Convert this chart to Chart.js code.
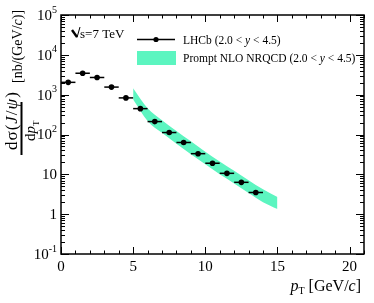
<!DOCTYPE html>
<html>
<head>
<meta charset="utf-8">
<script src="https://cdn.jsdelivr.net/npm/chart.js@4.4.0/dist/chart.umd.min.js"></script>
<style>
  body { margin: 0; background: #fff; }
  canvas { display: block; }
</style>
</head>
<body>
<canvas id="myChart" width="374" height="303"></canvas>
<script>
// LHCb points (bin centres, half-width, value)
var ptCentres = [0.5, 1.5, 2.5, 3.5, 4.5, 5.5, 6.5, 7.5, 8.5, 9.5, 10.5, 11.5, 12.5, 13.5];
var ptHalfWidth = 0.5;
var lhcbValues = [2040, 3450, 2700, 1550, 830, 446, 211, 112, 63, 33, 19, 10.6, 6.3, 3.5];

// NLO NRQCD band
var bandPt = [5, 6, 7, 8, 9, 10, 11, 12, 13, 14, 15];
var bandUpper = [1450, 457, 229, 123, 68, 37, 21, 12.3, 7.1, 4.2, 2.7];
var bandLower = [760, 219, 110, 59, 32, 17.8, 10, 5.9, 3.4, 2.0, 1.35];

var xTicks = [0, 5, 10, 15, 20];
var yDecades = [-1, 0, 1, 2, 3, 4, 5];

var serif = '"Liberation Serif", "DejaVu Serif", serif';
var bandColour = 'rgb(92,245,192)';

function pts(xs, ys) {
    return xs.map(function (x, i) { return { x: x, y: ys[i] }; });
}

// draw a run of [text, font, dy, gap] pieces starting at x
function drawRun(ctx, x, y, pieces) {
    pieces.forEach(function (p) {
        ctx.font = p[1];
        ctx.fillText(p[0], x, y + (p[2] || 0));
        x += ctx.measureText(p[0]).width + (p[3] || 0);
    });
    return x;
}

var decorations = {
    id: 'decorations',
    afterDatasetsDraw: function (chart) {
        var ctx = chart.ctx;
        var xs = chart.scales.x, ys = chart.scales.y;
        // x error bars
        ctx.save();
        ctx.strokeStyle = '#000';
        ctx.lineWidth = 1.5;
        ptCentres.forEach(function (c, i) {
            var py = ys.getPixelForValue(lhcbValues[i]);
            ctx.beginPath();
            ctx.moveTo(xs.getPixelForValue(c - ptHalfWidth), py);
            ctx.lineTo(xs.getPixelForValue(c + ptHalfWidth), py);
            ctx.stroke();
        });
        ctx.restore();
    },
    afterDraw: function (chart) {
        var ctx = chart.ctx;
        var a = chart.chartArea;
        var xs = chart.scales.x, ys = chart.scales.y;
        ctx.save();
        ctx.strokeStyle = '#000';
        ctx.fillStyle = '#000';

        // frame
        ctx.lineWidth = 1.5;
        ctx.strokeRect(a.left, a.top, a.right - a.left, a.bottom - a.top);

        // x ticks, inside, bottom and top
        ctx.lineWidth = 1;
        for (var v = 0; v <= 21; v++) {
            var px = Math.round(xs.getPixelForValue(v)) + 0.5;
            var len = (v % 5 === 0) ? 7 : 3.5;
            ctx.beginPath();
            ctx.moveTo(px, a.bottom); ctx.lineTo(px, a.bottom - len);
            ctx.moveTo(px, a.top); ctx.lineTo(px, a.top + len);
            ctx.stroke();
        }
        // y ticks, inside, left and right
        yDecades.forEach(function (d) {
            for (var m = 1; m <= 9; m++) {
                var val = m * Math.pow(10, d);
                if (val > 1e5 || val < 0.1) continue;
                var py = Math.round(ys.getPixelForValue(val)) + 0.5;
                var len = (m === 1) ? 8 : 4;
                ctx.beginPath();
                ctx.moveTo(a.left, py); ctx.lineTo(a.left + len, py);
                ctx.moveTo(a.right, py); ctx.lineTo(a.right - len, py);
                ctx.stroke();
            }
        });

        // x tick labels
        ctx.font = '15px ' + serif;
        ctx.textAlign = 'center';
        ctx.textBaseline = 'middle';
        xTicks.forEach(function (t) {
            ctx.fillText(String(t), xs.getPixelForValue(t), 267);
        });

        // y tick labels
        ctx.textAlign = 'left';
        yDecades.forEach(function (d) {
            var py = ys.getPixelForValue(Math.pow(10, d));
            var big = '15px ' + serif, small = '10px ' + serif;
            var pieces;
            if (d === 0) pieces = [['1', big, 0]];
            else if (d === 1) pieces = [['10', big, 0]];
            else pieces = [['10', big, 0], [String(d), small, -6]];
            var w = 0;
            pieces.forEach(function (p) { ctx.font = p[1]; w += ctx.measureText(p[0]).width; });
            drawRun(ctx, 57 - w, py + 1, pieces);
        });

        // x axis title
        ctx.textBaseline = 'alphabetic';
        var it16 = 'italic 16px ' + serif, rm16 = '16px ' + serif;
        var xt = [['p', it16, 0], ['T', '10px ' + serif, 3, 4], ['[GeV/', rm16, 0], ['c', it16, 0], [']', rm16, 0]];
        var tw = 0;
        xt.forEach(function (p) { ctx.font = p[1]; tw += ctx.measureText(p[0]).width + (p[3] || 0); });
        drawRun(ctx, 361 - tw, 291, xt);

        // y axis title, rotated
        ctx.save();
        ctx.rotate(-Math.PI / 2);
        var rm17 = '17px ' + serif, it17 = 'italic 17px ' + serif;
        drawRun(ctx, -150, 16.5, [['d', rm17, 0, 1], ['σ', rm17, 0, 1], ['(', rm17, 0, 1],
            ['J', it17, 0, 1], ['/', rm17, 0, 1], ['ψ', it17, 0, 1], [')', rm17, 0]]);
        var rm15 = '15px ' + serif, it15 = 'italic 15px ' + serif;
        drawRun(ctx, -141, 35, [['d', rm15, 0], ['p', it15, 0], ['T', '9px ' + serif, 4]]);
        var rm14 = '14px ' + serif, it14 = 'italic 14px ' + serif;
        drawRun(ctx, -83, 22, [['[nb/(GeV/', rm14, 0], ['c', it14, 0], [')]', rm14, 0]]);
        ctx.restore();
        ctx.fillRect(20.5, 102, 2, 53);

        // sqrt(s) label
        ctx.lineWidth = 2.4;
        ctx.beginPath();
        ctx.moveTo(72, 30); ctx.lineTo(77, 37);
        ctx.stroke();
        ctx.lineWidth = 1;
        ctx.beginPath();
        ctx.moveTo(77, 37.5); ctx.lineTo(80, 27);
        ctx.stroke();
        ctx.font = '13px ' + serif;
        ctx.fillText('s=7 TeV', 80, 38);

        // legend
        ctx.lineWidth = 1.5;
        ctx.beginPath();
        ctx.moveTo(137, 39.5); ctx.lineTo(175, 39.5);
        ctx.stroke();
        ctx.beginPath();
        ctx.arc(156, 39.5, 2.6, 0, Math.PI * 2);
        ctx.fill();
        ctx.fillStyle = bandColour;
        ctx.fillRect(137, 51, 39, 14);
        ctx.fillStyle = '#000';
        var rm = '11.5px ' + serif, it = 'italic 11.5px ' + serif;
        drawRun(ctx, 183, 44, [['LHCb (2.0 < ', rm, 0], ['y', it, 0], [' < 4.5)', rm, 0]]);
        drawRun(ctx, 183, 62, [['Prompt NLO NRQCD (2.0 < ', rm, 0], ['y', it, 0], [' < 4.5)', rm, 0]]);

        ctx.restore();
    }
};

var ctx1 = document.getElementById('myChart').getContext('2d');
var myChart = new Chart(ctx1, {
    type: 'line',
    data: {
        datasets: [{
            label: 'band upper',
            data: pts(bandPt, bandUpper),
            borderWidth: 0,
            borderColor: bandColour,
            backgroundColor: bandColour,
            pointRadius: 0,
            cubicInterpolationMode: 'monotone',
            fill: '+1',
            order: 2
        },
        {
            label: 'band lower',
            data: pts(bandPt, bandLower),
            borderWidth: 0,
            borderColor: bandColour,
            pointRadius: 0,
            cubicInterpolationMode: 'monotone',
            fill: false,
            order: 2
        },
        {
            label: 'LHCb',
            data: pts(ptCentres, lhcbValues),
            showLine: false,
            pointRadius: 2.8,
            pointBackgroundColor: '#000',
            pointBorderColor: '#000',
            pointBorderWidth: 0,
            order: 1
        }
        ]
    },
    options: {
        responsive: false,
        animation: false,
        layout: { padding: { top: 15, right: 10, left: 0, bottom: 0 } },
        scales: {
            x: {
                type: 'linear',
                min: 0,
                max: 21,
                grid: { display: false },
                border: { display: false },
                ticks: { display: false },
                afterFit: function (scale) { scale.height = 49; }
            },
            y: {
                type: 'logarithmic',
                min: 0.1,
                max: 100000,
                grid: { display: false },
                border: { display: false },
                ticks: { display: false },
                afterFit: function (scale) { scale.width = 61; }
            }
        },
        plugins: {
            legend: { display: false },
            tooltip: { enabled: false }
        }
    },
    plugins: [decorations]
});
</script>
</body>
</html>
